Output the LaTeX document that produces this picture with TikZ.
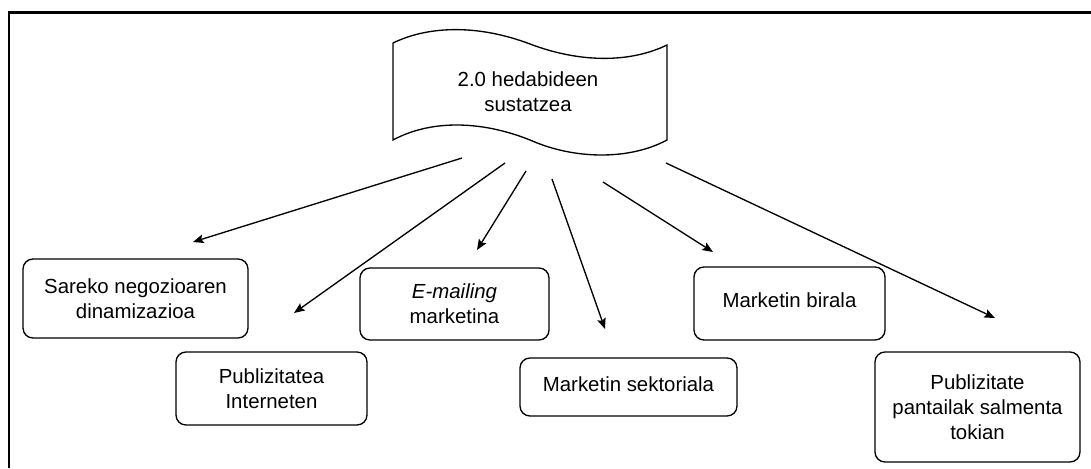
\documentclass[tikz,border=0pt]{standalone}
\usepackage{fontspec}
\setmainfont{Liberation Sans}
\usetikzlibrary{arrows.meta}

\tikzset{
  box/.style={draw, rounded corners=7.5pt, line width=1pt, align=center, inner sep=0pt,
    font=\fontsize{15.3}{18.75}\selectfont},
  link/.style={line width=1pt, -{Stealth[length=8pt,width=6.5pt,inset=1.5pt]}},
}

\begin{document}
\begin{tikzpicture}[x=0.75pt,y=0.75pt,yscale=-1,xscale=1]
\useasboundingbox (0,0) rectangle (1091,468);

%Frame
\draw [line width=1.6pt] (9,468) -- (9,12.5) -- (1091,12.5);

%Flag
\draw [line width=1pt] (393,43) .. controls (430,25) and (480,25) .. (530,44)
  .. controls (580,63) and (630,63) .. (667,45) -- (667,140)
  .. controls (630,160) and (575,160) .. (530,140)
  .. controls (480,120) and (430,120) .. (393,140) -- cycle;
% Text Node
\node [align=center, font=\fontsize{15.3}{18.75}\selectfont] (flag) at (528,92) {2.0 hedabideen\\sustatzea};

% Boxes
\node [box, minimum width=168.75pt, minimum height=59.25pt] (dinam) at (135.5,298.5) {Sareko negozioaren\\dinamizazioa};
\node [box, minimum width=143.25pt, minimum height=54.75pt] (publi) at (271.5,388.5) {Publizitatea\\Interneten};
\node [box, minimum width=141.75pt, minimum height=54pt] (email) at (454.5,304) {\textit{E-mailing}\\marketina};
\node [box, minimum width=162.75pt, minimum height=43.5pt, text depth=5pt] (sekto) at (628.5,387) {Marketin sektoriala};
\node [box, minimum width=143.25pt, minimum height=54.75pt, text depth=5pt] (birala) at (789.5,303.5) {Marketin birala};
\node [box, minimum width=153.75pt, minimum height=82.5pt] (pantai) at (977.5,407) {Publizitate\\pantailak salmenta\\tokian};

% Arrow ends
\coordinate (s1) at (462,158);
\coordinate (e1) at (193,242);
\coordinate (s2) at (505,163);
\coordinate (e2) at (294,313);
\coordinate (s3) at (526,171);
\coordinate (e3) at (477,250);
\coordinate (s4) at (552,179);
\coordinate (e4) at (605,329);
\coordinate (s5) at (603,182);
\coordinate (e5) at (713,252);
\coordinate (s6) at (666,163);
\coordinate (e6) at (995,318);

%Straight Lines
\foreach \i in {1,...,6}
  \draw [link] (s\i) -- (e\i);

\end{tikzpicture}
\end{document}
